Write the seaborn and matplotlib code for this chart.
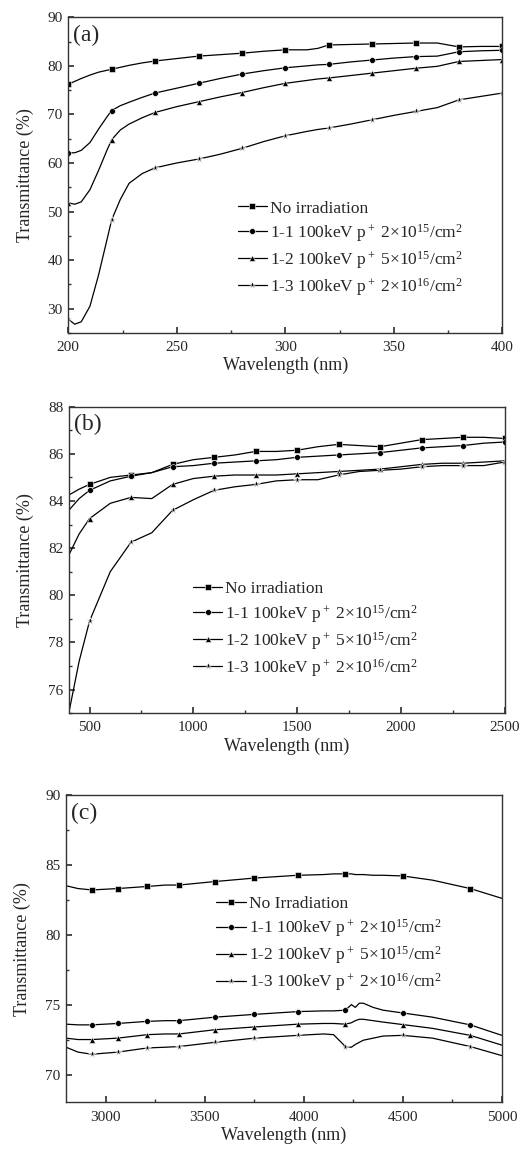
import matplotlib
matplotlib.use("Agg")
import matplotlib.pyplot as plt
import numpy as np
import pandas as pd
import seaborn as sns
from matplotlib.ticker import MultipleLocator

# ---- data ----
labels_a = ["No irradiation",
            "1-1 100keV p$^+$ 2×10$^{15}$/cm$^2$",
            "1-2 100keV p$^+$ 5×10$^{15}$/cm$^2$",
            "1-3 100keV p$^+$ 2×10$^{16}$/cm$^2$"]
labels_c = ["No Irradiation"] + labels_a[1:]

# panel (a) UV
x_a = [200, 203, 206, 210, 214, 218, 220, 224, 228, 234, 240, 250, 260, 270, 280, 290,
       300, 310, 315, 320, 330, 340, 350, 360, 370, 380, 390, 400]
mk_a = [200, 220, 240, 260, 280, 300, 320, 340, 360, 380, 400]
no_a = [76.2, 76.8, 77.4, 78.1, 78.7, 79.1, 79.3, 79.7, 80.1, 80.6, 81.0, 81.5, 82.0, 82.3,
        82.6, 83.0, 83.3, 83.3, 83.6, 84.3, 84.4, 84.5, 84.6, 84.7, 84.7, 83.9, 84.0, 84.0]
s11_a = [62.1, 62.1, 62.6, 64.2, 67.0, 69.6, 70.8, 71.8, 72.5, 73.5, 74.4, 75.4, 76.4, 77.4,
         78.3, 79.0, 79.6, 80.0, 80.2, 80.3, 80.8, 81.2, 81.6, 81.9, 82.0, 82.9, 83.1, 83.2]
s12_a = [51.8, 51.5, 52.0, 54.5, 58.5, 62.8, 64.8, 66.8, 68.0, 69.3, 70.4, 71.6, 72.6, 73.6,
         74.5, 75.5, 76.4, 77.0, 77.3, 77.5, 78.0, 78.5, 79.0, 79.5, 79.9, 80.9, 81.1, 81.3]
s13_a = [27.8, 26.8, 27.3, 30.5, 37.0, 44.5, 48.3, 52.5, 55.8, 57.8, 59.0, 60.0, 60.8, 61.8,
         63.0, 64.4, 65.6, 66.5, 66.9, 67.2, 68.0, 68.9, 69.8, 70.6, 71.4, 73.0, 73.7, 74.4]

# panel (b) visible / near IR
x_b = [400, 450, 500, 600, 700, 800, 900, 1000, 1100, 1200, 1300, 1400, 1500, 1600, 1700,
       1800, 1900, 2000, 2100, 2200, 2300, 2400, 2500]
mk_b = [500, 700, 900, 1100, 1300, 1500, 1700, 1900, 2100, 2300, 2500]
no_b = [84.25, 84.5, 84.7, 85.0, 85.1, 85.2, 85.55, 85.75, 85.85, 85.95, 86.1, 86.1, 86.15,
        86.3, 86.4, 86.35, 86.3, 86.45, 86.6, 86.65, 86.7, 86.7, 86.65]
s11_b = [83.6, 84.1, 84.45, 84.85, 85.05, 85.2, 85.45, 85.5, 85.6, 85.65, 85.7, 85.75, 85.85,
         85.9, 85.95, 86.0, 86.05, 86.15, 86.25, 86.3, 86.35, 86.45, 86.5]
s12_b = [81.7, 82.6, 83.25, 83.9, 84.15, 84.1, 84.7, 84.95, 85.05, 85.1, 85.1, 85.1, 85.15,
         85.2, 85.25, 85.3, 85.35, 85.45, 85.55, 85.6, 85.6, 85.65, 85.7]
s13_b = [75.0, 77.2, 78.9, 81.0, 82.25, 82.65, 83.6, 84.05, 84.45, 84.6, 84.7, 84.85, 84.9,
         84.9, 85.1, 85.25, 85.3, 85.35, 85.45, 85.5, 85.5, 85.5, 85.65]

# panel (c) mid IR
x_c = [2800, 2860, 2930, 3060, 3210, 3300, 3370, 3550, 3750, 3970, 4100, 4150, 4210, 4240,
       4260, 4280, 4300, 4350, 4400, 4500, 4650, 4840, 5000]
mk_c = [2930, 3060, 3210, 3370, 3550, 3750, 3970, 4210, 4500, 4840]
no_c = [83.5, 83.3, 83.2, 83.3, 83.45, 83.55, 83.55, 83.8, 84.05, 84.25, 84.3, 84.35, 84.35,
        84.35, 84.3, 84.3, 84.3, 84.25, 84.25, 84.2, 83.9, 83.3, 82.6]
s11_c = [73.6, 73.55, 73.55, 73.65, 73.8, 73.85, 73.85, 74.1, 74.3, 74.5, 74.55, 74.55, 74.6,
         75.0, 74.8, 75.1, 75.1, 74.8, 74.6, 74.4, 74.1, 73.55, 72.8]
s12_c = [72.6, 72.5, 72.5, 72.6, 72.85, 72.9, 72.9, 73.2, 73.4, 73.6, 73.65, 73.65, 73.6,
         73.7, 73.85, 73.95, 73.95, 73.85, 73.75, 73.57, 73.3, 72.8, 72.1]
s13_c = [71.95, 71.6, 71.45, 71.6, 71.9, 71.95, 72.0, 72.3, 72.6, 72.8, 72.9, 72.85, 72.0,
         71.95, 72.15, 72.3, 72.45, 72.6, 72.75, 72.8, 72.6, 72.0, 71.35]

markers = ["s", "o", "^", "*"]

sns.set_theme(style="ticks")
plt.rcParams["font.family"] = ["Liberation Serif", "DejaVu Serif"]
plt.rcParams["mathtext.fontset"] = "custom"
plt.rcParams["mathtext.rm"] = "Liberation Serif"
plt.rcParams["mathtext.it"] = "Liberation Serif:italic"

fig = plt.figure(figsize=(5.25, 11.52), dpi=100)

panels = [
    dict(rect=[0.130, 0.711, 0.827, 0.274], x=x_a, mk=mk_a, ys=[no_a, s11_a, s12_a, s13_a],
         labels=labels_a, xlim=(200, 400), ylim=(25, 90), xmaj=50, xmin=25, ymaj=10, ymin=5,
         tag="(a)", leg=(0.39, 0.42)),
    dict(rect=[0.131, 0.381, 0.830, 0.266], x=x_b, mk=mk_b, ys=[no_b, s11_b, s12_b, s13_b],
         labels=labels_a, xlim=(400, 2500), ylim=(75, 88), xmaj=500, xmin=250, ymaj=2, ymin=1,
         tag="(b)", leg=(0.285, 0.43)),
    dict(rect=[0.126, 0.043, 0.830, 0.267], x=x_c, mk=mk_c, ys=[no_c, s11_c, s12_c, s13_c],
         labels=labels_c, xlim=(2800, 5000), ylim=(68, 90), xmaj=500, xmin=250, ymaj=5, ymin=2.5,
         tag="(c)", leg=(0.345, 0.672)),
]

for p in panels:
    ax = fig.add_axes(p["rect"])
    mask = np.isin(p["x"], p["mk"])
    for y, lab, m in zip(p["ys"], p["labels"], markers):
        df = pd.DataFrame({"wl": p["x"], "T": y})
        sns.lineplot(data=df, x="wl", y="T", ax=ax, color="black", linewidth=0.9,
                     marker=m, markersize=5.5 if m == "*" else 4.2, markeredgewidth=0.4,
                     markevery=list(mask), label=lab, estimator=None, sort=False)
    ax.set_xlim(*p["xlim"])
    ax.set_ylim(*p["ylim"])
    ax.xaxis.set_major_locator(MultipleLocator(p["xmaj"]))
    ax.xaxis.set_minor_locator(MultipleLocator(p["xmin"]))
    ax.yaxis.set_major_locator(MultipleLocator(p["ymaj"]))
    ax.yaxis.set_minor_locator(MultipleLocator(p["ymin"]))
    ax.tick_params(which="both", direction="in", labelsize=11, top=False, right=False,
                   color="#333333")
    ax.tick_params(axis="x", pad=6)
    ax.tick_params(axis="y", pad=4)
    ax.tick_params(which="major", length=4)
    ax.tick_params(which="minor", length=2.5)
    for s in ax.spines.values():
        s.set_linewidth(1.0)
        s.set_color("#333333")
    ax.set_xlabel("Wavelength (nm)", fontsize=13, labelpad=2)
    ax.set_ylabel("Transmittance (%)", fontsize=13, labelpad=10)
    ax.text(0.012, 0.975, p["tag"], transform=ax.transAxes, fontsize=17, va="top", ha="left")
    ax.legend(loc="upper left", bbox_to_anchor=p["leg"], frameon=False, fontsize=12.5,
              handlelength=1.7, handletextpad=0.15, labelspacing=0.3, borderpad=0,
              borderaxespad=0)

fig.savefig("out.png", dpi=100)
